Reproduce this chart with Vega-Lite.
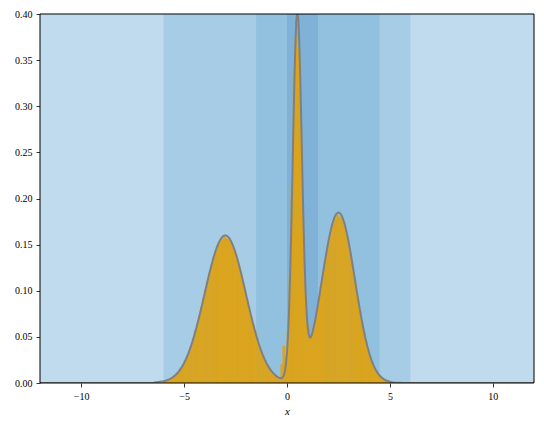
{
  "$schema": "https://vega.github.io/schema/vega-lite/v6.json",
  "width": 494,
  "height": 369,
  "autosize": {"type": "none"},
  "padding": {"left": 40, "top": 14, "right": 10, "bottom": 46},
  "background": "white",
  "config": {
    "view": {"stroke": null},
    "font": "Liberation Serif",
    "axis": {
      "domain": false,
      "grid": false,
      "tickColor": "black",
      "tickSize": 4,
      "tickWidth": 0.8,
      "labelFont": "Liberation Serif",
      "labelFontSize": 10,
      "labelColor": "black",
      "titleFont": "Liberation Serif",
      "titleFontWeight": "normal",
      "titleColor": "black"
    }
  },
  "datasets": {
    "bands": [
      {"lo": -12, "hi": 12, "level": "a"},
      {"lo": -6, "hi": 6, "level": "b"},
      {"lo": -1.5, "hi": 4.5, "level": "c"},
      {"lo": 0, "hi": 1.5, "level": "d"}
    ],
    "hist": [
      {"x0": -6.0, "x1": -5.9, "h": 0.0015},
      {"x0": -5.9, "x1": -5.8, "h": 0.0025},
      {"x0": -5.8, "x1": -5.7, "h": 0.0035},
      {"x0": -5.7, "x1": -5.6, "h": 0.005},
      {"x0": -5.6, "x1": -5.5, "h": 0.006},
      {"x0": -5.5, "x1": -5.4, "h": 0.0082},
      {"x0": -5.4, "x1": -5.3, "h": 0.01},
      {"x0": -5.3, "x1": -5.2, "h": 0.0125},
      {"x0": -5.2, "x1": -5.1, "h": 0.0162},
      {"x0": -5.1, "x1": -5.0, "h": 0.019},
      {"x0": -5.0, "x1": -4.9, "h": 0.0245},
      {"x0": -4.9, "x1": -4.8, "h": 0.0285},
      {"x0": -4.8, "x1": -4.7, "h": 0.0345},
      {"x0": -4.7, "x1": -4.6, "h": 0.0405},
      {"x0": -4.6, "x1": -4.5, "h": 0.0478},
      {"x0": -4.5, "x1": -4.4, "h": 0.0565},
      {"x0": -4.4, "x1": -4.3, "h": 0.064},
      {"x0": -4.3, "x1": -4.2, "h": 0.073},
      {"x0": -4.2, "x1": -4.1, "h": 0.082},
      {"x0": -4.1, "x1": -4.0, "h": 0.0915},
      {"x0": -4.0, "x1": -3.9, "h": 0.101},
      {"x0": -3.9, "x1": -3.8, "h": 0.1105},
      {"x0": -3.8, "x1": -3.7, "h": 0.1195},
      {"x0": -3.7, "x1": -3.6, "h": 0.128},
      {"x0": -3.6, "x1": -3.5, "h": 0.1365},
      {"x0": -3.5, "x1": -3.4, "h": 0.143},
      {"x0": -3.4, "x1": -3.3, "h": 0.149},
      {"x0": -3.3, "x1": -3.2, "h": 0.1535},
      {"x0": -3.2, "x1": -3.1, "h": 0.156},
      {"x0": -3.1, "x1": -3.0, "h": 0.1585},
      {"x0": -3.0, "x1": -2.9, "h": 0.157},
      {"x0": -2.9, "x1": -2.8, "h": 0.1555},
      {"x0": -2.8, "x1": -2.7, "h": 0.153},
      {"x0": -2.7, "x1": -2.6, "h": 0.148},
      {"x0": -2.6, "x1": -2.5, "h": 0.1425},
      {"x0": -2.5, "x1": -2.4, "h": 0.1355},
      {"x0": -2.4, "x1": -2.3, "h": 0.127},
      {"x0": -2.3, "x1": -2.2, "h": 0.119},
      {"x0": -2.2, "x1": -2.1, "h": 0.1095},
      {"x0": -2.1, "x1": -2.0, "h": 0.1005},
      {"x0": -2.0, "x1": -1.9, "h": 0.091},
      {"x0": -1.9, "x1": -1.8, "h": 0.082},
      {"x0": -1.8, "x1": -1.7, "h": 0.0725},
      {"x0": -1.7, "x1": -1.6, "h": 0.064},
      {"x0": -1.6, "x1": -1.5, "h": 0.0555},
      {"x0": -1.5, "x1": -1.4, "h": 0.048},
      {"x0": -1.4, "x1": -1.3, "h": 0.041},
      {"x0": -1.3, "x1": -1.2, "h": 0.0345},
      {"x0": -1.2, "x1": -1.1, "h": 0.0285},
      {"x0": -1.1, "x1": -1.0, "h": 0.0238},
      {"x0": -1.0, "x1": -0.9, "h": 0.0195},
      {"x0": -0.9, "x1": -0.8, "h": 0.0158},
      {"x0": -0.8, "x1": -0.7, "h": 0.0125},
      {"x0": -0.7, "x1": -0.6, "h": 0.01},
      {"x0": -0.6, "x1": -0.5, "h": 0.008},
      {"x0": -0.5, "x1": -0.4, "h": 0.0065},
      {"x0": -0.4, "x1": -0.3, "h": 0.0055},
      {"x0": -0.3, "x1": -0.2, "h": 0.02},
      {"x0": -0.2, "x1": -0.1, "h": 0.04},
      {"x0": -0.1, "x1": 0.0, "h": 0.03},
      {"x0": 0.0, "x1": 0.1, "h": 0.055},
      {"x0": 0.1, "x1": 0.2, "h": 0.118},
      {"x0": 0.2, "x1": 0.3, "h": 0.215},
      {"x0": 0.3, "x1": 0.4, "h": 0.338},
      {"x0": 0.4, "x1": 0.5, "h": 0.377},
      {"x0": 0.5, "x1": 0.6, "h": 0.363},
      {"x0": 0.6, "x1": 0.7, "h": 0.318},
      {"x0": 0.7, "x1": 0.8, "h": 0.222},
      {"x0": 0.8, "x1": 0.9, "h": 0.135},
      {"x0": 0.9, "x1": 1.0, "h": 0.08},
      {"x0": 1.0, "x1": 1.1, "h": 0.062},
      {"x0": 1.1, "x1": 1.2, "h": 0.05},
      {"x0": 1.2, "x1": 1.3, "h": 0.055},
      {"x0": 1.3, "x1": 1.4, "h": 0.065},
      {"x0": 1.4, "x1": 1.5, "h": 0.079},
      {"x0": 1.5, "x1": 1.6, "h": 0.09},
      {"x0": 1.6, "x1": 1.7, "h": 0.104},
      {"x0": 1.7, "x1": 1.8, "h": 0.118},
      {"x0": 1.8, "x1": 1.9, "h": 0.131},
      {"x0": 1.9, "x1": 2.0, "h": 0.143},
      {"x0": 2.0, "x1": 2.1, "h": 0.155},
      {"x0": 2.1, "x1": 2.2, "h": 0.166},
      {"x0": 2.2, "x1": 2.3, "h": 0.173},
      {"x0": 2.3, "x1": 2.4, "h": 0.178},
      {"x0": 2.4, "x1": 2.5, "h": 0.182},
      {"x0": 2.5, "x1": 2.6, "h": 0.18},
      {"x0": 2.6, "x1": 2.7, "h": 0.178},
      {"x0": 2.7, "x1": 2.8, "h": 0.172},
      {"x0": 2.8, "x1": 2.9, "h": 0.165},
      {"x0": 2.9, "x1": 3.0, "h": 0.155},
      {"x0": 3.0, "x1": 3.1, "h": 0.143},
      {"x0": 3.1, "x1": 3.2, "h": 0.131},
      {"x0": 3.2, "x1": 3.3, "h": 0.117},
      {"x0": 3.3, "x1": 3.4, "h": 0.103},
      {"x0": 3.4, "x1": 3.5, "h": 0.09},
      {"x0": 3.5, "x1": 3.6, "h": 0.078},
      {"x0": 3.6, "x1": 3.7, "h": 0.066},
      {"x0": 3.7, "x1": 3.8, "h": 0.055},
      {"x0": 3.8, "x1": 3.9, "h": 0.045},
      {"x0": 3.9, "x1": 4.0, "h": 0.036},
      {"x0": 4.0, "x1": 4.1, "h": 0.028},
      {"x0": 4.1, "x1": 4.2, "h": 0.022},
      {"x0": 4.2, "x1": 4.3, "h": 0.017},
      {"x0": 4.3, "x1": 4.4, "h": 0.013},
      {"x0": 4.4, "x1": 4.5, "h": 0.0095},
      {"x0": 4.5, "x1": 4.6, "h": 0.007},
      {"x0": 4.6, "x1": 4.7, "h": 0.005},
      {"x0": 4.7, "x1": 4.8, "h": 0.0036},
      {"x0": 4.8, "x1": 4.9, "h": 0.0025},
      {"x0": 4.9, "x1": 5.0, "h": 0.0017},
      {"x0": 5.0, "x1": 5.1, "h": 0.0011},
      {"x0": 5.1, "x1": 5.2, "h": 0.0008},
      {"x0": 5.2, "x1": 5.3, "h": 0.0005},
      {"x0": 5.3, "x1": 5.4, "h": 0.0003},
      {"x0": 5.4, "x1": 5.5, "h": 0.0002},
      {"x0": 5.5, "x1": 5.6, "h": 0.0001}
    ],
    "curve": [
      {"x": -12, "d": 0}, {"x": -10, "d": 0}, {"x": -8, "d": 0}, {"x": -7, "d": 0.00005}, {"x": -6.5, "d": 0.00035},
      {"x": -6.0, "d": 0.0018}, {"x": -5.9, "d": 0.0024}, {"x": -5.8, "d": 0.0032}, {"x": -5.7, "d": 0.0042},
      {"x": -5.6, "d": 0.0054}, {"x": -5.5, "d": 0.007}, {"x": -5.4, "d": 0.009}, {"x": -5.3, "d": 0.0114},
      {"x": -5.2, "d": 0.0142}, {"x": -5.1, "d": 0.0177}, {"x": -5.0, "d": 0.0217}, {"x": -4.9, "d": 0.0263},
      {"x": -4.8, "d": 0.0317}, {"x": -4.7, "d": 0.0377}, {"x": -4.6, "d": 0.0445}, {"x": -4.5, "d": 0.052},
      {"x": -4.4, "d": 0.0601}, {"x": -4.3, "d": 0.0687}, {"x": -4.2, "d": 0.0779}, {"x": -4.1, "d": 0.0874},
      {"x": -4.0, "d": 0.097}, {"x": -3.9, "d": 0.1067}, {"x": -3.8, "d": 0.1162}, {"x": -3.7, "d": 0.1252},
      {"x": -3.6, "d": 0.1337}, {"x": -3.5, "d": 0.1412}, {"x": -3.4, "d": 0.1477}, {"x": -3.3, "d": 0.153},
      {"x": -3.2, "d": 0.1568}, {"x": -3.1, "d": 0.1592}, {"x": -3.0, "d": 0.16}, {"x": -2.9, "d": 0.1592},
      {"x": -2.8, "d": 0.1568}, {"x": -2.7, "d": 0.153}, {"x": -2.6, "d": 0.1477}, {"x": -2.5, "d": 0.1412},
      {"x": -2.4, "d": 0.1337}, {"x": -2.3, "d": 0.1252}, {"x": -2.2, "d": 0.1162}, {"x": -2.1, "d": 0.1067},
      {"x": -2.0, "d": 0.097}, {"x": -1.9, "d": 0.0874}, {"x": -1.8, "d": 0.0779}, {"x": -1.7, "d": 0.0687},
      {"x": -1.6, "d": 0.0601}, {"x": -1.5, "d": 0.052}, {"x": -1.4, "d": 0.0445}, {"x": -1.3, "d": 0.0377},
      {"x": -1.2, "d": 0.0317}, {"x": -1.1, "d": 0.0263}, {"x": -1.0, "d": 0.0217}, {"x": -0.9, "d": 0.0177},
      {"x": -0.8, "d": 0.0143}, {"x": -0.7, "d": 0.0115}, {"x": -0.6, "d": 0.0091}, {"x": -0.5, "d": 0.0072},
      {"x": -0.4, "d": 0.0058}, {"x": -0.3, "d": 0.0051}, {"x": -0.25, "d": 0.0053}, {"x": -0.2, "d": 0.0063},
      {"x": -0.15, "d": 0.0085}, {"x": -0.1, "d": 0.0129}, {"x": -0.05, "d": 0.0206}, {"x": 0.0, "d": 0.0331},
      {"x": 0.05, "d": 0.052}, {"x": 0.1, "d": 0.079}, {"x": 0.15, "d": 0.115}, {"x": 0.2, "d": 0.1599},
      {"x": 0.25, "d": 0.2114}, {"x": 0.3, "d": 0.2662}, {"x": 0.35, "d": 0.3187}, {"x": 0.4, "d": 0.3626},
      {"x": 0.45, "d": 0.3922}, {"x": 0.5, "d": 0.4035}, {"x": 0.55, "d": 0.3947}, {"x": 0.6, "d": 0.3675},
      {"x": 0.65, "d": 0.3261}, {"x": 0.7, "d": 0.2762}, {"x": 0.75, "d": 0.2241}, {"x": 0.8, "d": 0.1753},
      {"x": 0.85, "d": 0.1336}, {"x": 0.9, "d": 0.1007}, {"x": 0.95, "d": 0.0771}, {"x": 1.0, "d": 0.0618},
      {"x": 1.05, "d": 0.0532}, {"x": 1.1, "d": 0.0496}, {"x": 1.15, "d": 0.0495}, {"x": 1.2, "d": 0.0519},
      {"x": 1.25, "d": 0.0558}, {"x": 1.3, "d": 0.0606}, {"x": 1.35, "d": 0.066}, {"x": 1.4, "d": 0.0719},
      {"x": 1.5, "d": 0.0847}, {"x": 1.6, "d": 0.0983}, {"x": 1.7, "d": 0.1122}, {"x": 1.8, "d": 0.1262},
      {"x": 1.9, "d": 0.1396}, {"x": 2.0, "d": 0.1522}, {"x": 2.1, "d": 0.1633}, {"x": 2.2, "d": 0.1724},
      {"x": 2.3, "d": 0.1793}, {"x": 2.4, "d": 0.1836}, {"x": 2.5, "d": 0.185}, {"x": 2.6, "d": 0.1836},
      {"x": 2.7, "d": 0.1793}, {"x": 2.8, "d": 0.1724}, {"x": 2.9, "d": 0.1633}, {"x": 3.0, "d": 0.1522},
      {"x": 3.1, "d": 0.1396}, {"x": 3.2, "d": 0.1262}, {"x": 3.3, "d": 0.1122}, {"x": 3.4, "d": 0.0983},
      {"x": 3.5, "d": 0.0847}, {"x": 3.6, "d": 0.0719}, {"x": 3.7, "d": 0.0601}, {"x": 3.8, "d": 0.0494},
      {"x": 3.9, "d": 0.04}, {"x": 4.0, "d": 0.0319}, {"x": 4.1, "d": 0.025}, {"x": 4.2, "d": 0.0193},
      {"x": 4.3, "d": 0.0147}, {"x": 4.4, "d": 0.011}, {"x": 4.5, "d": 0.0081}, {"x": 4.6, "d": 0.0059},
      {"x": 4.7, "d": 0.0042}, {"x": 4.8, "d": 0.003}, {"x": 4.9, "d": 0.0021}, {"x": 5.0, "d": 0.0014},
      {"x": 5.1, "d": 0.0009}, {"x": 5.2, "d": 0.0006}, {"x": 5.3, "d": 0.0004}, {"x": 5.4, "d": 0.0003},
      {"x": 5.5, "d": 0.0002}, {"x": 5.6, "d": 0.0001}, {"x": 6.0, "d": 0}, {"x": 7, "d": 0},
      {"x": 8, "d": 0}, {"x": 10, "d": 0}, {"x": 12, "d": 0}
    ],
    "frame": [{"lo": -12, "hi": 12, "bottom": 0, "top": 0.4}]
  },
  "layer": [
    {
      "data": {"name": "bands"},
      "mark": {"type": "rect", "clip": true},
      "encoding": {
        "x": {"field": "lo", "type": "quantitative", "scale": {"domain": [-12, 12], "nice": false, "zero": false},
              "axis": {"values": [-10, -5, 0, 5, 10], "format": "d", "title": "x", "titleFontStyle": "italic", "titleFontSize": 11, "titlePadding": 4, "labelPadding": 4}},
        "x2": {"field": "hi"},
        "color": {"field": "level", "type": "nominal", "legend": null,
                  "scale": {"domain": ["a", "b", "c", "d"], "range": ["#bfdbed", "#a7cde6", "#92c0df", "#80b1d7"]}}
      }
    },
    {
      "data": {"name": "hist"},
      "mark": {"type": "rect", "color": "#daa520", "stroke": "#daa520", "strokeWidth": 0.7, "clip": true},
      "encoding": {
        "x": {"field": "x0", "type": "quantitative"},
        "x2": {"field": "x1"},
        "y": {"field": "h", "type": "quantitative", "scale": {"domain": [0, 0.4], "nice": false},
              "axis": {"values": [0, 0.05, 0.1, 0.15, 0.2, 0.25, 0.3, 0.35, 0.4], "format": ".2f", "title": null, "labelPadding": 4}},
        "y2": {"datum": 0}
      }
    },
    {
      "data": {"name": "curve"},
      "mark": {"type": "line", "color": "#808080", "strokeWidth": 2, "clip": true},
      "encoding": {
        "x": {"field": "x", "type": "quantitative"},
        "y": {"field": "d", "type": "quantitative"}
      }
    },
    {
      "data": {"name": "frame"},
      "mark": {"type": "rect", "fill": null, "stroke": "black", "strokeWidth": 1},
      "encoding": {
        "x": {"field": "lo", "type": "quantitative"},
        "x2": {"field": "hi"},
        "y": {"field": "bottom", "type": "quantitative"},
        "y2": {"field": "top"}
      }
    }
  ]
}
